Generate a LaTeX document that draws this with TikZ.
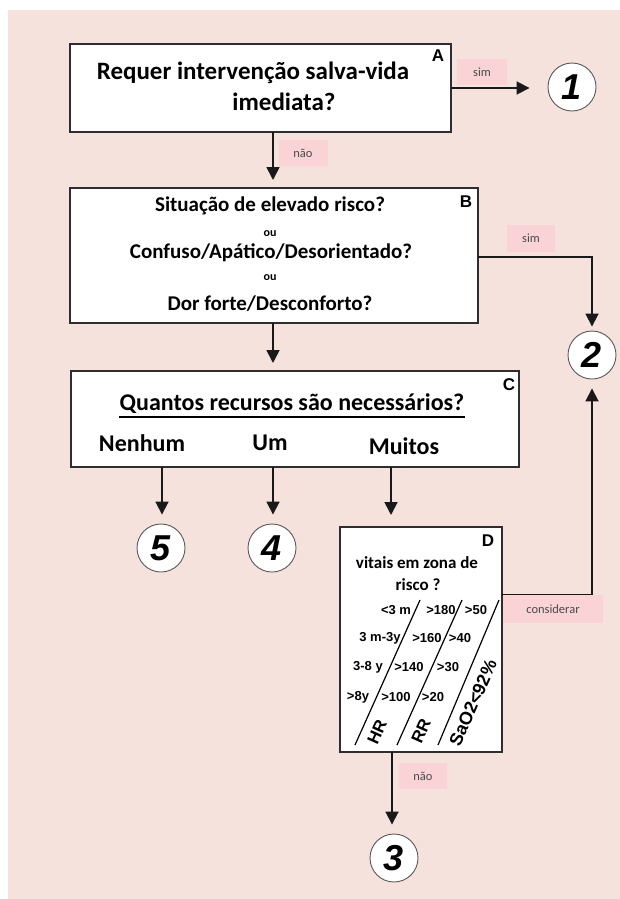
\documentclass[tikz,border=0pt]{standalone}
\usepackage{fontspec}
\setmainfont{Carlito}
\newfontfamily\arialf{Liberation Sans}
\usetikzlibrary{arrows.meta}
\definecolor{bgpink}{HTML}{F6E2DD}
\definecolor{lblpink}{HTML}{FAD3D6}
\definecolor{lbltext}{HTML}{4A4A4A}
\definecolor{edge}{HTML}{2E2E2E}
\begin{document}
\begin{tikzpicture}[x=1pt,y=-1pt,
  box/.style={draw=edge, line width=1.5pt, fill=white, outer sep=0pt, inner sep=0pt, anchor=north west},
  arr/.style={draw=black!90, line width=1.8pt, -{Triangle[length=13pt,width=13pt]}},
  num/.style={circle, draw=black!65, line width=0.9pt, fill=white, minimum size=48pt, inner sep=0pt, font=\arialf\bfseries\itshape\fontsize{36}{36}\selectfont},
  lbl/.style={fill=lblpink, text=lbltext, font=\fontsize{12.5}{14}\selectfont, inner sep=0pt},
  corner/.style={font=\arialf\bfseries\fontsize{17}{17}\selectfont, inner sep=0pt},
  ta/.style={font=\bfseries\fontsize{25}{25}\selectfont, inner sep=0pt},
  tb/.style={font=\bfseries\fontsize{21}{21}\selectfont, inner sep=0pt},
  tou/.style={font=\bfseries\fontsize{12}{12}\selectfont, inner sep=0pt},
  tc/.style={font=\bfseries\fontsize{24}{24}\selectfont, inner sep=0pt},
  td/.style={font=\bfseries\fontsize{17}{17}\selectfont, inner sep=0pt},
  tt/.style={font=\arialf\bfseries\fontsize{13}{13}\selectfont, inner sep=0pt},
  trot/.style={font=\arialf\bfseries\fontsize{17}{17}\selectfont, inner sep=0pt, rotate=66}
]
\useasboundingbox (0,0) rectangle (620,899);
\fill[white] (0,0) rectangle (620,899);
\fill[bgpink] (8,10) rectangle (620,899);

% boxes
\node[box, minimum width=381pt, minimum height=88pt] (A) at (70,44) {};
\node[box, minimum width=408pt, minimum height=135pt] (B) at (70,188) {};
\node[box, minimum width=448pt, minimum height=96pt] (C) at (71,371) {};
\node[box, minimum width=162pt, minimum height=225pt] (D) at (340,527) {};

% corner letters
\node[corner] (cA) at (438,56) {A};
\node[corner] (cB) at (466,202) {B};
\node[corner] (cC) at (509,385) {C};
\node[corner] (cD) at (488,541) {D};

% texts A
\node[ta] (ta1) at (253,73) {Requer intervenção salva-vida};
\node[ta] (ta2) at (284,102) {imediata?};
% texts B
\node[tb] (tb1) at (270,206) {Situação de elevado risco?};
\node[tou] (tb2) at (270,234) {ou};
\node[tb] (tb3) at (271,253) {Confuso/Apático/Desorientado?};
\node[tou] (tb4) at (270,278) {ou};
\node[tb] (tb5) at (270,304) {Dor forte/Desconforto?};
% texts C
\node[tc] (tq) at (292,404) {Quantos recursos são necessários?};
\draw[line width=1.3pt] ([yshift=-6pt]tq.base west) -- ([yshift=-6pt]tq.base east);
\node[tc] (tn) at (142,443) {Nenhum};
\node[tc] (tu) at (270,443) {Um};
\node[tc] (tm) at (404,446) {Muitos};
% texts D
\node[td] (td1) at (417,563) {vitais em zona de};
\node[td] (td2) at (418,585) {risco ?};
\node[tt] (r11) at (396,610) {<3 m};
\node[tt] (r12) at (441,610) {>180};
\node[tt] (r13) at (476,610) {>50};
\node[tt] (r21) at (380,638) {3 m-3y};
\node[tt] (r22) at (427,638) {>160};
\node[tt] (r23) at (460,638) {>40};
\node[tt] (r31) at (368,667) {3-8 y};
\node[tt] (r32) at (409,667) {>140};
\node[tt] (r33) at (448,667) {>30};
\node[tt] (r41) at (358,697) {>8y};
\node[tt] (r42) at (396,697) {>100};
\node[tt] (r43) at (433,697) {>20};
\node[trot] (hr) at (377,732) {HR};
\node[trot] (rr) at (421,731) {RR};
\node[trot, font=\arialf\bfseries\fontsize{18}{18}\selectfont] (sa) at (473,703) {SaO2<92\%};
\coordinate (l1a) at (355,745); \coordinate (l1b) at (420,600);
\coordinate (l2a) at (397,745); \coordinate (l2b) at (462,600);
\coordinate (l3a) at (438,745); \coordinate (l3b) at (499,600);
\draw[line width=1.2pt] (l1a) -- (l1b);
\draw[line width=1.2pt] (l2a) -- (l2b);
\draw[line width=1.2pt] (l3a) -- (l3b);

% number circles
\node[num] (n1) at (572,87) {1};
\node[num] (n2) at (592,355) {2};
\node[num] (n5) at (161,548) {5};
\node[num] (n4) at (272,548) {4};
\node[num] (n3) at (394,858) {3};

% connectors
\coordinate (xab) at (273,0);
\coordinate (x5) at (162,0);
\coordinate (xd) at (391,0);
\coordinate (xd3) at (392,0);
\coordinate (yB) at (0,257);
\coordinate (yD) at (0,595);
\draw[arr, shorten >=18pt] (A.east) -- (A.east -| n1.west);
\draw[arr, shorten >=8pt] (A.south -| xab) -- (B.north -| xab);
\draw[arr, shorten >=8pt] (B.south -| xab) -- (C.north -| xab);
\draw[arr, shorten >=4pt] (B.east |- yB) -| (n2.north);
\draw[arr, shorten >=9pt] (C.south -| x5) -- (n5.north -| x5);
\draw[arr, shorten >=9pt] (C.south -| xab) -- (n4.north -| xab);
\draw[arr, shorten >=12pt] (C.south -| xd) -- (D.north -| xd);
\draw[arr, shorten >=9pt] (D.east |- yD) -| (n2.south);
\draw[arr, shorten >=9pt] (D.south -| xd3) -- (n3.north -| xd3);

% pink labels
\node[lbl, minimum width=50pt, minimum height=26pt] (s1) at (482,72) {sim};
\node[lbl, minimum width=49pt, minimum height=26pt] (no1) at (303,153) {não};
\node[lbl, minimum width=48pt, minimum height=27pt] (s2) at (531,238) {sim};
\node[lbl, minimum width=100pt, minimum height=28pt] (cons) at (553,609) {considerar};
\node[lbl, minimum width=48pt, minimum height=26pt] (no3) at (423,776) {não};
\end{tikzpicture}
\end{document}
